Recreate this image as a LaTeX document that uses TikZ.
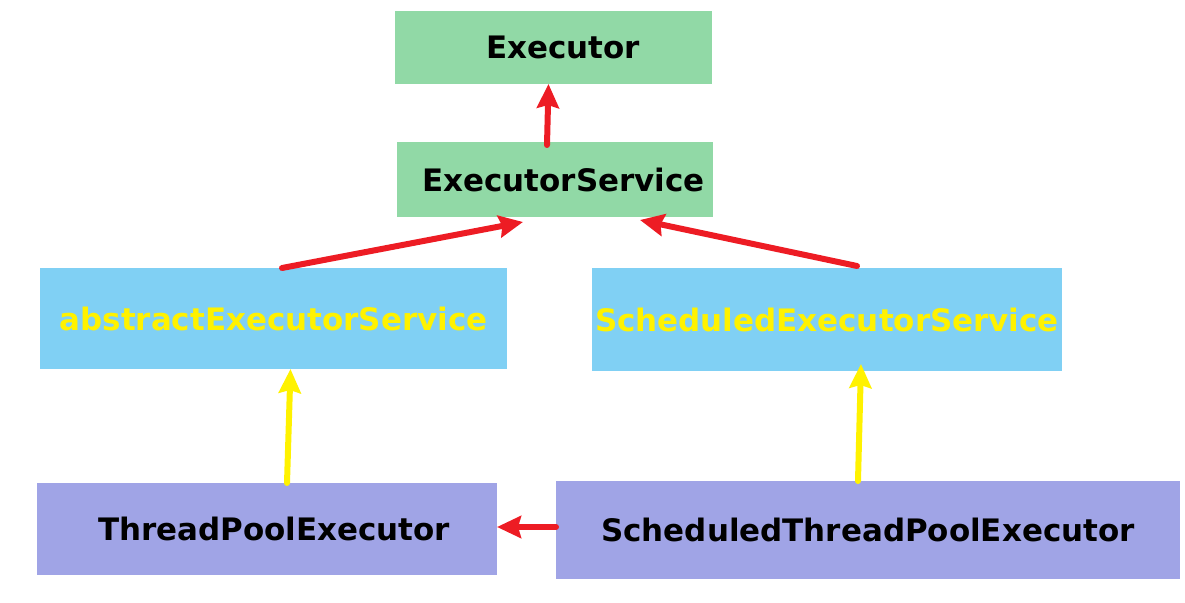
\documentclass[tikz,border=0pt]{standalone}
\usepackage{fontspec}
\setmainfont{DejaVu Sans}
\usetikzlibrary{positioning}
\usetikzlibrary{arrows.meta}
\definecolor{ifacegreen}{HTML}{91D9A6}
\definecolor{absblue}{HTML}{80D0F4}
\definecolor{implpurple}{HTML}{A0A4E6}
\definecolor{arrred}{HTML}{ED1C24}
\definecolor{arryellow}{HTML}{FFF200}
\tikzset{
    %Define standard arrow tip
    >={Stealth[length=2.4mm,width=2.2mm,inset=0.3mm]},
    % Define arrow style
    pil/.style={
           ->,
           line width=0.6mm,
           line cap=round,
           shorten <=0pt,
           shorten >=0pt,}
}
\newcommand{\boxfont}{\fontsize{8.8}{10}\selectfont\bfseries}

\begin{document}
\begin{tikzpicture}[x=0.1mm, y=-0.1mm, outer sep = 0pt]
\tikzstyle{nface}=[ rectangle, fill=ifacegreen,
                  font=\boxfont, text=black,
                  inner xsep=0.5mm,
                  anchor=north west]
\tikzstyle{nabs}=[ rectangle, fill=absblue,
                  font=\boxfont, text=arryellow,
                  inner xsep=0.1mm,
                  anchor=north west]
\tikzstyle{nimpl}=[ rectangle, fill=implpurple,
                  font=\boxfont, text=black,
                  inner xsep=0.5mm,
                  anchor=north west]

\useasboundingbox (0,0) rectangle (1185,603);

\node[nface] (exec) at(395,11) [minimum width=31.7mm, minimum height=7.3mm] {\hspace*{1.9mm}Executor};
\node[nface] (es)   at(397,142) [minimum width=31.6mm, minimum height=7.5mm] {\hspace*{1.7mm}ExecutorService};

\node[nabs]  (aes)  at(40,268)  [minimum width=46.7mm, minimum height=10.1mm] {abstractExecutorService};
\node[nabs]  (ses)  [right = 8.5mm of aes.north east, anchor=north west, minimum width=47mm, minimum height=10.3mm] {ScheduledExecutorService};

\node[nimpl] (tpe)  at(37,483)  [minimum width=46mm, minimum height=9.2mm] {\hspace*{1.4mm}ThreadPoolExecutor};
\node[nimpl] (stpe) at(556,481) [minimum width=62.4mm, minimum height=9.8mm] {ScheduledThreadPoolExecutor};

\path[pil,arrred] ([xshift=-0.8mm,yshift=-0.3mm]es.north)  edge ([xshift=-0.5mm]exec.south);
\path[pil,arrred] ([xshift=0.85mm]aes.north)  edge ([xshift=-3.2mm,yshift=-0.5mm]es.south);
\path[pil,arrred] ([xshift=3mm,yshift=0.2mm]ses.north)  edge ([xshift=8.5mm,yshift=-0.3mm]es.south);

\path[pil,arryellow] ([xshift=2mm]tpe.north)  edge ([xshift=1.7mm]aes.south);
\path[pil,arryellow] ([xshift=-1mm]stpe.north)  edge ([xshift=3.4mm,yshift=0.7mm]ses.south);

\path[pil,arrred] ([yshift=0.3mm]stpe.west)  edge ([yshift=0.2mm]tpe.east);

\end{tikzpicture}
\end{document}
